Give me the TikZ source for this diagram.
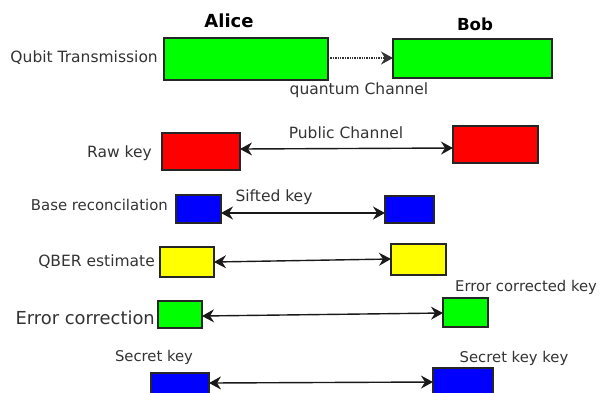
\documentclass[tikz,border=0pt]{standalone}
\usepackage{fontspec}
\setmainfont{DejaVu Sans}
\usetikzlibrary{arrows.meta}
\definecolor{txt}{HTML}{333333}
\definecolor{bgreen}{HTML}{00FF00}
\definecolor{bred}{HTML}{FF0000}
\definecolor{bblue}{HTML}{0000FF}
\definecolor{byellow}{HTML}{FFFF00}
\tikzset{
  keybox/.style={draw=black!85, line width=1.4pt, inner sep=0pt, outer sep=0pt},
  lbl/.style={text=txt, inner sep=0pt, font=\fontsize{15.5}{18}\selectfont},
  link/.style={line width=1.4pt, black!90, {Stealth[length=12pt,width=13pt,inset=4pt]}-{Stealth[length=12pt,width=13pt,inset=4pt]}},
  qlink/.style={line width=1.4pt, black!80, densely dotted, -{Stealth[length=12pt,width=13pt,inset=4pt]}}
}
\begin{document}
\begin{tikzpicture}[x=1pt,y=-1pt]
\useasboundingbox (0,0) rectangle (601,392);
\clip (0,0) rectangle (601,392);
% headers
\node[text=black, inner sep=0pt, font=\bfseries\fontsize{18}{20}\selectfont] (alice) at (229,21) {Alice};
\node[text=black, inner sep=0pt, font=\bfseries\fontsize{16.6}{20}\selectfont] (bob) at (475,24) {Bob};
% row 1
\node[keybox, fill=bgreen, minimum width=164pt, minimum height=42pt] (a1) at (246,59) {};
\node[keybox, fill=bgreen, minimum width=159pt, minimum height=39pt] (b1) at (472.5,58.5) {};
\node[lbl, anchor=east] (l1) at (158,58) {Qubit Transmission};
\draw[qlink] (a1.east |- 0,58) -- (b1.west |- 0,58);
\node[lbl] (q1) at (359,90) {quantum Channel};
% row 2
\node[keybox, fill=bred, minimum width=78pt, minimum height=37pt] (a2) at (201,151.5) {};
\node[keybox, fill=bred, minimum width=85pt, minimum height=37pt] (b2) at (495.5,144.5) {};
\node[lbl, anchor=east] (l2) at (152,153) {Raw key};
\draw[link] (a2.east |- 0,149) -- (b2.west |- 0,148);
\node[lbl] (p2) at (346,133) {Public Channel};
% row 3
\node[keybox, fill=bblue, minimum width=45pt, minimum height=28pt] (a3) at (198.5,209) {};
\node[keybox, fill=bblue, minimum width=49pt, minimum height=27pt] (b3) at (409.5,209.5) {};
\node[lbl, anchor=east, font=\fontsize{14.9}{18}\selectfont] (l3) at (168,205) {Base reconcilation};
\draw[link] (a3.east |- 0,213) -- (b3.west |- 0,213);
\node[lbl] (s3) at (274,197) {Sifted key};
% row 4
\node[keybox, fill=byellow, minimum width=54pt, minimum height=30pt] (a4) at (187,262) {};
\node[keybox, fill=byellow, minimum width=55pt, minimum height=31pt] (b4) at (418.5,259.5) {};
\node[lbl, anchor=east] (l4) at (155,262) {QBER estimate};
\draw[link] (a4.east |- 0,262) -- (b4.west |- 0,259);
% row 5
\node[keybox, fill=bgreen, minimum width=44pt, minimum height=27pt] (a5) at (180,314.5) {};
\node[keybox, fill=bgreen, minimum width=45pt, minimum height=29pt] (b5) at (465.5,312.5) {};
\node[lbl, anchor=east, font=\fontsize{17.9}{20}\selectfont] (l5) at (155,318) {Error correction};
\draw[link] (a5.east |- 0,316) -- (b5.west |- 0,313);
\node[lbl, anchor=west, font=\fontsize{14.8}{18}\selectfont] (e5) at (455,287) {Error corrected key};
% row 6
\node[keybox, fill=bblue, minimum width=58pt, minimum height=24pt] (a6) at (180,385) {};
\node[keybox, fill=bblue, minimum width=60pt, minimum height=28pt] (b6) at (463,382) {};
\node[lbl, font=\fontsize{14.8}{18}\selectfont] (l6) at (154,357) {Secret key};
\draw[link] (a6.east |- 0,383) -- (b6.west |- 0,382);
\node[lbl, font=\fontsize{14.8}{18}\selectfont] (s6) at (514,358) {Secret key key};
\end{tikzpicture}
\end{document}
